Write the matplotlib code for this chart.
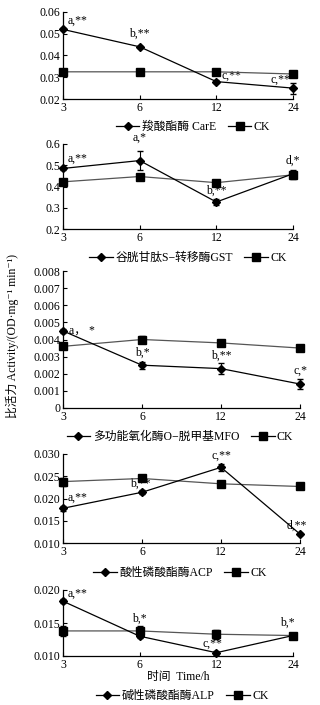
import numpy as np
import matplotlib.pyplot as plt
from matplotlib.lines import Line2D

plt.rcParams['font.family'] = ['Liberation Serif', 'Noto Sans CJK SC', 'DejaVu Serif']
plt.rcParams['axes.unicode_minus'] = False

times = ['3', '6', '12', '24']

carE = [0.052, 0.044, 0.028, 0.025]
carE_err = [0.0005, 0.0005, 0.0006, 0.0025]
carE_ck = [0.0325, 0.0325, 0.0325, 0.0315]
carE_ck_err = [0.0004, 0.0004, 0.0004, 0.0004]
carE_lab = ['a,**', 'b,**', 'c,**', 'c,**']

gst = [0.485, 0.522, 0.327, 0.460]
gst_err = [0.006, 0.045, 0.012, 0.020]
gst_ck = [0.422, 0.447, 0.418, 0.455]
gst_ck_err = [0.008, 0.008, 0.008, 0.020]
gst_lab = ['a,**', 'a,*', 'b,**', 'd,*']

mfo = [0.0045, 0.0025, 0.0023, 0.0014]
mfo_err = [0.0001, 0.0002, 0.0003, 0.0003]
mfo_ck = [0.0036, 0.0040, 0.0038, 0.0035]
mfo_ck_err = [0.0001, 0.0002, 0.0002, 0.0002]
mfo_lab = ['a， *', 'b,*', 'b,**', 'c,*']

acp = [0.0178, 0.0214, 0.0270, 0.0120]
acp_err = [0.0005, 0.0005, 0.0008, 0.0003]
acp_ck = [0.0238, 0.0245, 0.0233, 0.0227]
acp_ck_err = [0.0009, 0.0005, 0.0004, 0.0004]
acp_lab = ['a,**', 'b,**', 'c,**', 'd,**']

alp = [0.0183, 0.0130, 0.0105, 0.0131]
alp_err = [0.0003, 0.0003, 0.0003, 0.0003]
alp_ck = [0.0138, 0.0138, 0.0133, 0.0131]
alp_ck_err = [0.0008, 0.0008, 0.0007, 0.0004]
alp_lab = ['a,**', 'b,*', 'c,**', 'b,*']

names = ['羧酸酯酶 CarE', '谷胱甘肽S−转移酶GST', '多功能氧化酶O−脱甲基MFO',
         '酸性磷酸酯酶ACP', '碱性磷酸酯酶ALP']

panels = [
    (carE, carE_err, carE_ck, carE_ck_err, carE_lab, [0.02, 0.03, 0.04, 0.05, 0.06], '%.2f'),
    (gst, gst_err, gst_ck, gst_ck_err, gst_lab, [0.2, 0.3, 0.4, 0.5, 0.6], '%.1f'),
    (mfo, mfo_err, mfo_ck, mfo_ck_err, mfo_lab, [0, 0.001, 0.002, 0.003, 0.004, 0.005, 0.006, 0.007, 0.008], '%.3f'),
    (acp, acp_err, acp_ck, acp_ck_err, acp_lab, [0.010, 0.015, 0.020, 0.025, 0.030], '%.3f'),
    (alp, alp_err, alp_ck, alp_ck_err, alp_lab, [0.010, 0.015, 0.020], '%.3f'),
]

# pixel boxes: left, right, top, bottom
boxes = [(63, 293, 12, 99), (63, 293, 144, 229), (63, 300, 271, 408),
         (63, 300, 454, 543), (63, 293, 590, 656)]
legend_y = [127, 258, 437, 573, 696]
legend_x = [193, 188, 180, 180, 182]

# label offsets in points (dx, dy, ha, va)
offsets = [
    [(3, 2, 'left', 'bottom'), (0, 5, 'center', 'bottom'), (4, 0, 'left', 'bottom'), (-2, 2, 'right', 'bottom')],
    [(3, 3, 'left', 'bottom'), (0, 12, 'center', 'bottom'), (0, 4, 'center', 'bottom'), (0, 5, 'center', 'bottom')],
    [(4, 0, 'left', 'center'), (0, 5, 'center', 'bottom'), (0, 5, 'center', 'bottom'), (0, 5, 'center', 'bottom')],
    [(3, 3, 'left', 'bottom'), (-1, 2, 'center', 'bottom'), (0, 4, 'center', 'bottom'), (-2, 2, 'center', 'bottom')],
    [(3, 1, 'left', 'bottom'), (0, 8, 'center', 'bottom'), (-3, 2, 'center', 'bottom'), (-4, 5, 'center', 'bottom')],
]

W, H = 320, 705
fig = plt.figure(figsize=(W / 100, H / 100), dpi=100)
x = np.arange(len(times))
fs = 8.5

for i, (vals, err, ck, ckerr, labs, yt, fmt) in enumerate(panels):
    l, r, t, b = boxes[i]
    ax = fig.add_axes([l / W, 1 - b / H, (r - l) / W, (b - t) / H])
    ax.errorbar(x, ck, yerr=ckerr, color='#555555', lw=0.9, marker='s', ms=5.5,
                mfc='black', mec='black', ecolor='black', elinewidth=0.8, capsize=2.5,
                clip_on=False, zorder=3)
    ax.errorbar(x, vals, yerr=err, color='black', lw=0.9, marker='D', ms=4.5,
                mfc='black', mec='black', ecolor='black', elinewidth=0.8, capsize=2.5,
                clip_on=False, zorder=4)
    for j, s in enumerate(labs):
        dx, dy, ha, va = offsets[i][j]
        ax.annotate(s, (x[j], vals[j]), xytext=(dx, dy), textcoords='offset points',
                    ha=ha, va=va, fontsize=fs)
    ax.set_xlim(0, 3)
    ax.set_ylim(yt[0], yt[-1])
    ax.set_xticks(x)
    ax.set_xticklabels(times)
    ax.set_yticks(yt)
    ax.set_yticklabels(['0' if v == 0 else fmt % v for v in yt])
    ax.tick_params(direction='in', length=3, width=0.8, labelsize=fs, pad=2)
    for s in ['top', 'right']:
        ax.spines[s].set_visible(False)
    for s in ['left', 'bottom']:
        ax.spines[s].set_linewidth(0.9)
    h1 = Line2D([], [], color='black', lw=0.9, marker='D', ms=4.5)
    h2 = Line2D([], [], color='black', lw=0.9, marker='s', ms=5.5)
    fig.legend([h1, h2], [names[i], 'CK'], loc='center',
               bbox_to_anchor=(legend_x[i] / W, 1 - legend_y[i] / H), ncol=2,
               frameon=False, fontsize=fs, handlelength=2.0, handletextpad=0.2,
               columnspacing=1.0, borderaxespad=0, borderpad=0)
    if i == 4:
        ax.set_xlabel('时间  Time/h', fontsize=fs, labelpad=0)

fig.text(12 / W, 1 - 336 / H, '比活力 Activity/(OD·mg⁻¹ min⁻¹)', rotation=90,
         ha='center', va='center', fontsize=fs)

fig.savefig('out.png', dpi=100)
